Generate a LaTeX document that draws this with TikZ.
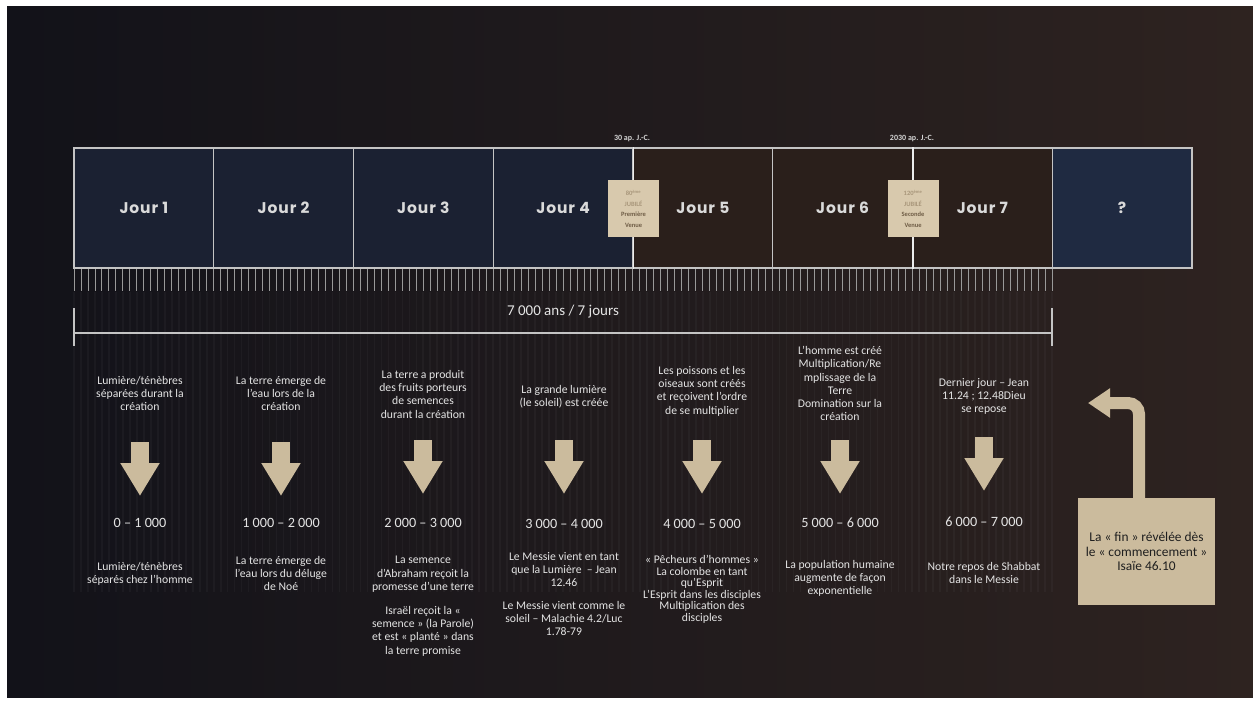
\documentclass[tikz,border=0pt]{standalone}
\usepackage{fontspec}
\setmainfont{Carlito}
\newfontfamily\jourfont[LetterSpace=6]{Poppins}
\usetikzlibrary{arrows.meta, positioning}

\definecolor{bgleft}{HTML}{121219}
\definecolor{bgright}{HTML}{2E2320}
\definecolor{navyday}{HTML}{1B2132}
\definecolor{brownday}{HTML}{2A1F1B}
\definecolor{navyq}{HTML}{1F2A41}
\definecolor{sand}{HTML}{CBBB9D}
\definecolor{sandbox}{HTML}{D8C9AD}
\definecolor{frameline}{HTML}{C4C4C4}
\definecolor{txtlight}{HTML}{E4E4E4}
\definecolor{venuefaint}{HTML}{A8967A}
\definecolor{venuetext}{HTML}{6E5C45}

\begin{document}
\begin{tikzpicture}[
x=1pt, y=-1pt,
daybox/.style={
draw=frameline,
line width=1.1pt,
minimum width=139.75pt,
minimum height=120pt,
inner sep=0pt,
text=txtlight!90!gray,
font=\jourfont\bfseries\fontsize{15.5}{18}\selectfont
},
venue/.style={
fill=sandbox,
minimum width=51pt,
minimum height=57pt,
inner sep=0pt,
align=center,
text=venuetext,
font=\bfseries\fontsize{6.5}{10.5}\selectfont
},
datelabel/.style={
text=txtlight!85!gray,
inner sep=0pt,
font=\bfseries\fontsize{8}{9}\selectfont
},
tick/.style={draw=gray!80, line width=0.9pt},
bracket/.style={draw=frameline, line width=2.4pt},
toptext/.style={
anchor=north,
align=center,
inner sep=0pt,
text=txtlight,
font=\fontsize{11.7}{13.3}\selectfont
},
years/.style={
text=txtlight,
inner sep=0pt,
font=\fontsize{14.2}{16}\selectfont
},
downarrow/.style={
draw=sand,
line width=18pt,
-{Triangle[length=33pt, width=37pt]}
},
finbox/.style={
fill=sand,
minimum width=137pt,
minimum height=107pt,
inner sep=0pt,
align=center,
text=black!88,
font=\fontsize{13.4}{14.5}\selectfont
},
bentarrow/.style={
draw=sand,
line width=12pt,
rounded corners=11pt,
-{Triangle[length=22pt, width=28pt]}
}
]

% background
\useasboundingbox (0,0) rectangle (1253,701);
\fill[white] (0,0) rectangle (1253,701);
\shade[left color=bgleft, right color=bgright] (7,7) rectangle (1253,697);
\foreach \k in {0,...,140}
  \draw[white, opacity=0.03, line width=1.6pt] ({74+\k*6.9857},292) -- ++(0,300);

% day boxes
\foreach \i/\c/\t in {1/navyday/Jour 1, 2/navyday/Jour 2, 3/navyday/Jour 3,
  4/navyday/Jour 4, 5/brownday/Jour 5, 6/brownday/Jour 6,
  7/brownday/Jour 7, 8/navyq/?}
  \node[daybox, fill=\c] (j\i) at ({74+(\i-0.5)*139.75},208) {\t};

% ticks
\foreach \k in {0,...,140}
  \draw[tick] ({74+\k*6.9857},269) -- ++(0,22);
\draw[frameline, line width=1.1pt] (j1.south west) -- (j8.south east);

% first and second coming
\draw[white!85!gray, line width=1.6pt] (j4.north east) -- (j4.south east);
\draw[white!85!gray, line width=1.6pt] (j6.north east) -- (j6.south east);
\node[venue] (v1) at ([yshift=-0.5pt]j4.east)
  {\textcolor{venuefaint}{80\textsuperscript{ème}}\\\textcolor{venuefaint}{JUBILÉ}\\Première\\Venue};
\node[venue] (v2) at ([yshift=-0.5pt]j6.east)
  {\textcolor{venuefaint}{120\textsuperscript{ème}}\\\textcolor{venuefaint}{JUBILÉ}\\Seconde\\Venue};
\node[datelabel] (c1) at (632,139) {30 ap. J.-C.};
\node[datelabel] (c2) at (912,139) {2030 ap. J.-C.};

% 7000 years
\coordinate (s0) at (74,333);
\coordinate (s1) at (1052,333);
\draw[bracket] (74,308) -- (74,346);
\draw[bracket] (1052,308) -- (1052,346);
\draw[bracket] (s0) -- (s1);
\node[years, font=\fontsize{15}{17}\selectfont] (span) at (563,312) {7 000 ans / 7 jours};

% creation week
\node[toptext] (t1) at (140,376) {Lumière/ténèbres\\séparées durant la\\création};
\node[toptext] (t2) at (281,376) {La terre émerge de\\l'eau lors de la\\création};
\node[toptext] (t3) at (423,370) {La terre a produit\\des fruits porteurs\\de semences\\durant la création};
\node[toptext] (t4) at (564,385) {La grande lumière\\(le soleil) est créée};
\node[toptext] (t5) at (702,366) {Les poissons et les\\oiseaux sont créés\\et reçoivent l'ordre\\de se multiplier};
\node[toptext] (t6) at (840,346) {L'homme est créé\\Multiplication/Re\\mplissage de la\\Terre\\Domination sur la\\création};
\node[toptext] (t7) at (984,378) {Dernier jour – Jean\\11.24 ; 12.48Dieu\\se repose};

% arrows
\foreach \x/\y in {140/442, 281/442, 423/440, 564/440, 702/440, 840/440, 984/437}
  \draw[downarrow] (\x,\y) -- (\x,\y+54);

% millennia
\node[years] (y1) at (140,523) {0 – 1 000};
\node[years] (y2) at (281,523) {1 000 – 2 000};
\node[years] (y3) at (423,523) {2 000 – 3 000};
\node[years] (y4) at (564,524) {3 000 – 4 000};
\node[years] (y5) at (702,524) {4 000 – 5 000};
\node[years] (y6) at (840,523) {5 000 – 6 000};
\node[years] (y7) at (984,522) {6 000 – 7 000};

% history
\node[toptext] (h1) at (140,562) {Lumière/ténèbres\\séparés chez l'homme};
\node[toptext] (h2) at (281,556) {La terre émerge de\\l'eau lors du déluge\\de Noé};
\node[toptext] (h3) at (423,556) {La semence\\d'Abraham reçoit la\\promesse d'une terre\\[10.5pt]Israël reçoit la «\\semence » (la Parole)\\et est « planté » dans\\la terre promise};
\node[toptext] (h4) at (564,552) {Le Messie vient en tant\\que la Lumière~ – Jean\\12.46\\[9pt]Le Messie vient comme le\\soleil – Malachie 4.2/Luc\\1.78-79};
\node[toptext, font=\fontsize{11.7}{11.6}\selectfont] (h5) at (702,555) {« Pêcheurs d'hommes »\\La colombe en tant\\qu'Esprit\\L'Esprit dans les disciples\\Multiplication des\\disciples};
\node[toptext] (h6) at (840,560) {La population humaine\\augmente de façon\\exponentielle};
\node[toptext] (h7) at (984,562) {Notre repos de Shabbat\\dans le Messie};

% end from the beginning
\node[finbox] (fin) at (1146.5,551.5) {La « fin » révélée dès\\le « commencement »\\Isaïe 46.10};
\coordinate (back) at (1088,403);
\draw[bentarrow] ([xshift=-7.5pt]fin.north) |- (back);

\end{tikzpicture}
\end{document}
